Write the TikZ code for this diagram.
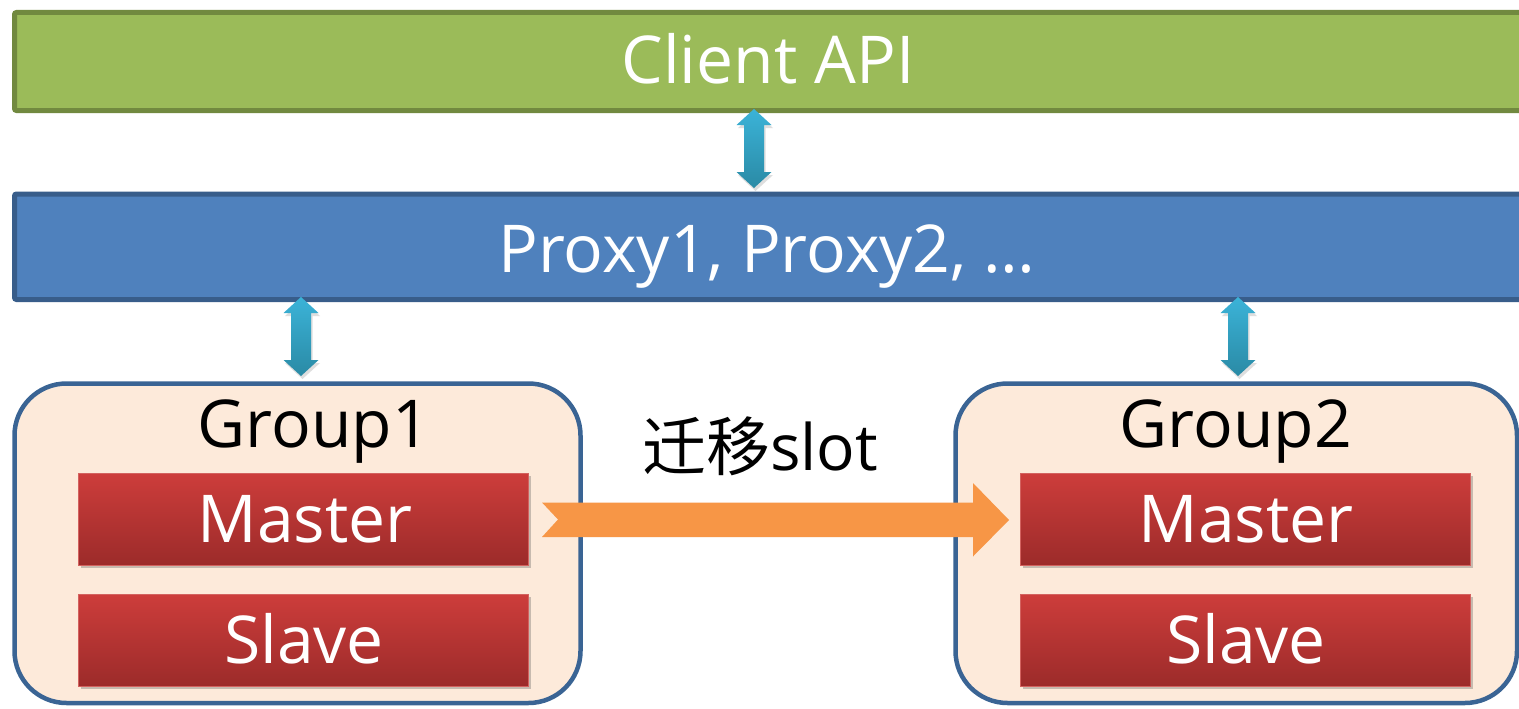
\documentclass[tikz,border=0pt]{standalone}
\usepackage{fontspec}
\setmainfont{Open Sans}
\newfontfamily\cjkfont{Noto Sans CJK SC}
\usetikzlibrary{shadows}
\definecolor{cgreen}{HTML}{9BBB59}
\definecolor{cgreenline}{HTML}{71893F}
\definecolor{cblue}{HTML}{4F81BD}
\definecolor{cblueline}{HTML}{385D8A}
\definecolor{cgroup}{HTML}{FDEADA}
\definecolor{cgroupline}{HTML}{3A6494}
\definecolor{credtop}{HTML}{CD3D3B}
\definecolor{credbot}{HTML}{9C2B2A}
\definecolor{credline}{HTML}{D3625F}
\definecolor{ctealtop}{HTML}{3BB3D8}
\definecolor{ctealbot}{HTML}{2A8AA5}
\definecolor{corange}{HTML}{F79646}
\tikzset{
  bigbox/.style={rectangle, line width=5pt, rounded corners=2pt, inner sep=0pt},
  clientbox/.style={bigbox, draw=cgreenline, fill=cgreen},
  proxybox/.style={bigbox, draw=cblueline, fill=cblue},
  groupbox/.style={rectangle, line width=4.5pt, draw=cgroupline, fill=cgroup, rounded corners=52pt, inner sep=0pt},
  redbox/.style={rectangle, inner sep=0pt, draw=credline, line width=1pt, top color=credtop, bottom color=credbot,
    drop shadow={opacity=0.3, shadow xshift=2.5pt, shadow yshift=-3pt, fill=black!70}},
  lbl/.style={font=\fontsize{66}{72}\selectfont, inner sep=0pt, anchor=base},
  wlbl/.style={lbl, text=white},
  tealarrow/.style={top color=ctealtop, bottom color=ctealbot,
    drop shadow={opacity=0.18, shadow xshift=1.5pt, shadow yshift=-3pt, fill=black!70}},
  orangearrow/.style={fill=corange}
}
\newcommand\vdarrow[1]{%
  \path[tealarrow] (#1) -- ++(17.5,16) -- ++(-7.5,0) -- ++(0,47) -- ++(7.5,0) -- ++(-17.5,16)
    -- ++(-17.5,-16) -- ++(7.5,0) -- ++(0,-47) -- ++(-7.5,0) -- cycle;}
\begin{document}
\begin{tikzpicture}[x=1pt,y=-1pt]
\useasboundingbox (0,0) rectangle (1519,709);
\fill[white] (0,0) rectangle (1519,709);
% top boxes
\node[clientbox, minimum width=1525.5pt, minimum height=98pt] (client) at (777.25,61.5) {};
\node[wlbl] (clientlbl) at (768,84) {Client API};
\node[proxybox, minimum width=1525.5pt, minimum height=105.5pt] (proxy) at (777.25,246.75) {};
\node[wlbl] (proxylbl) at (767,272) {Proxy1, Proxy2, …};
% groups
\node[groupbox, minimum width=566pt, minimum height=319.5pt] (group1) at (297.5,543.25) {};
\node[groupbox, minimum width=561.5pt, minimum height=319.5pt] (group2) at (1236.25,543.25) {};
\node[lbl] (g1lbl) at (314,447) {Group1};
\node[lbl] (g2lbl) at (1236,447) {Group2};
% red boxes
\node[redbox, minimum width=450pt, minimum height=92pt] (master1) at (303,519) {};
\node[redbox, minimum width=450pt, minimum height=92pt] (slave1) at (303,640) {};
\node[redbox, minimum width=450pt, minimum height=92pt] (master2) at (1245,519) {};
\node[redbox, minimum width=450pt, minimum height=92pt] (slave2) at (1245,640) {};
\node[wlbl] (m1lbl) at (305,542) {Master};
\node[wlbl] (s1lbl) at (304,663) {Slave};
\node[wlbl] (m2lbl) at (1246,542) {Master};
\node[wlbl] (s2lbl) at (1246,663) {Slave};
% vertical double arrows
\coordinate (a1) at (754,109);
\coordinate (a2) at (301,297);
\coordinate (a3) at (1238,297);
\vdarrow{a1}
\vdarrow{a2}
\vdarrow{a3}
% migration arrow
\coordinate (otail) at (542,520);
\coordinate (ohead) at (1009,520);
\path[orangearrow] (otail) ++(0,-17.5) -- ++(431,0) -- ++(0,-19.5) -- (ohead) -- ++(-36,36.5)
  -- ++(0,-19.5) -- ++(-431,0) -- ++(16,-17.5) -- cycle;
\node[lbl, font=\fontsize{64}{70}\selectfont] (miglbl) at (760,470) {{\cjkfont 迁移}slot};
\end{tikzpicture}
\end{document}
